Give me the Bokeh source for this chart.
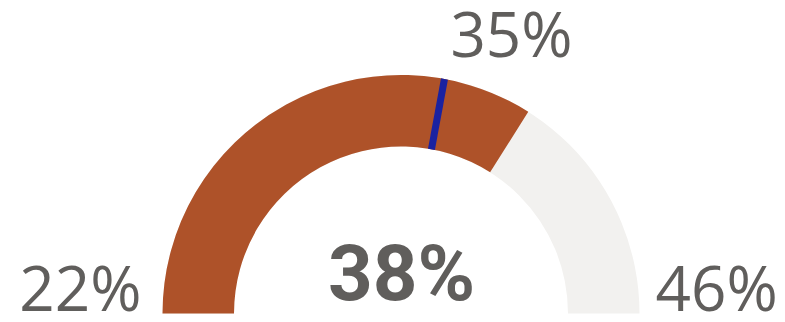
import math
from bokeh.plotting import figure
from bokeh.models import Range1d
from bokeh.core.properties import value
from bokeh.embed import file_html
from bokeh.resources import INLINE

# Gauge data
gauge_min = [22]
gauge_max = [46]
gauge_value = [38.3]
gauge_target = [35.4]

W, H = 785, 322
p = figure(width=W, height=H, output_backend="svg", toolbar_location=None,
           x_range=Range1d(0, W), y_range=Range1d(0, H), min_border=0)
p.axis.visible = False
p.grid.visible = False
p.outline_line_color = None
p.background_fill_color = "white"

cx, cy = 400.5, 9.0
r_in, r_out = 167, 238.5

def ang(v):
    frac = (v - gauge_min[0]) / (gauge_max[0] - gauge_min[0])
    return math.pi * (1 - frac)

# background track
p.annular_wedge(x=[cx], y=[cy], inner_radius=r_in, outer_radius=r_out,
                start_angle=0, end_angle=math.pi, fill_color="#F2F1EF", line_color=None)
# value
p.annular_wedge(x=[cx], y=[cy], inner_radius=r_in, outer_radius=r_out,
                start_angle=[ang(v) for v in gauge_value], end_angle=math.pi,
                fill_color="#AE5229", line_color=None)
# target line
ta = ang(gauge_target[0])
p.segment(x0=[cx + r_in * math.cos(ta)], y0=[cy + r_in * math.sin(ta)],
          x1=[cx + r_out * math.cos(ta)], y1=[cy + r_out * math.sin(ta)],
          line_color="#1A22A0", line_width=7)

grey = "#605E5C"
p.text(x=[141], y=[36], text=[f"{gauge_min[0]}%"], text_align="right",
       text_baseline="alphabetic", text_font=value("Open Sans"),
       text_font_size="62px", text_color=grey)
p.text(x=[655], y=[36], text=[f"{gauge_max[0]}%"], text_align="left",
       text_baseline="alphabetic", text_font=value("Open Sans"),
       text_font_size="62px", text_color=grey)
p.text(x=[511], y=[290], text=[f"{round(gauge_target[0])}%"], text_align="center",
       text_baseline="alphabetic", text_font=value("Open Sans"),
       text_font_size="62px", text_color=grey)
p.text(x=[401], y=[49], text=[f"{round(gauge_value[0])}%"], text_align="center",
       text_baseline="alphabetic", text_font=value("Roboto"),
       text_font_style="bold", text_font_size="78px", text_color=grey)

open("out.html", "w").write(file_html(p, INLINE))
